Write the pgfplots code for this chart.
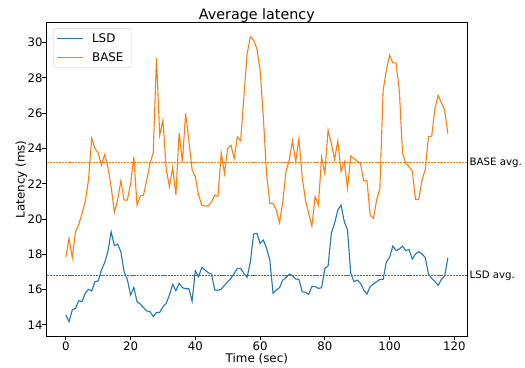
\documentclass[border=0pt]{standalone}
\usepackage{fontspec}
\setmainfont{DejaVu Sans}
\usepackage{pgfplots}
\pgfplotsset{compat=1.18}
\usepackage{pgfplotstable}
\definecolor{cblue}{HTML}{1F77B4}
\definecolor{corange}{HTML}{FF7F0E}

\pgfplotstableread{
t lsd base
0 14.56 17.83
1 14.18 18.9
2 14.84 17.81
3 14.94 19.28
4 15.37 19.7
5 15.32 20.3
6 15.79 21.0
7 16.02 22.2
8 15.92 24.57
9 16.45 24.0
10 16.49 23.75
11 17.11 23.06
12 17.53 23.66
13 18.15 22.96
14 19.28 21.83
15 18.49 20.38
16 18.58 21.07
17 18.15 22.17
18 17.02 21.07
19 16.58 21.07
20 15.69 22.0
21 16.13 23.53
22 15.32 20.79
23 15.18 21.3
24 14.98 21.36
25 14.79 22.2
26 14.75 23.15
27 14.47 23.75
28 14.71 29.15
29 14.71 24.75
30 15.03 25.6
31 15.22 22.87
32 15.69 21.83
33 16.3 22.92
34 15.94 21.36
35 16.36 24.9
36 16.11 23.24
37 16.05 25.98
38 16.05 24.47
39 15.35 22.81
40 17.07 22.39
41 16.73 21.36
42 17.26 20.79
43 17.11 20.74
44 16.96 20.74
45 16.88 20.98
46 15.98 21.36
47 15.96 21.3
48 16.03 23.75
49 16.24 22.58
50 16.45 24.0
51 16.64 24.19
52 16.92 23.43
53 17.2 24.66
54 17.2 24.43
55 16.92 26.93
56 16.7 29.38
57 17.58 30.33
58 19.15 30.14
59 19.19 29.66
60 18.62 28.44
61 18.81 25.79
62 18.34 22.58
63 17.68 20.89
64 15.79 20.89
65 15.98 20.51
66 16.11 19.79
67 16.54 20.98
68 16.68 22.68
69 16.88 23.34
70 16.79 24.43
71 16.6 23.24
72 16.58 24.57
73 15.88 22.39
74 15.85 21.08
75 15.73 20.32
76 16.17 19.6
77 16.17 21.27
78 16.07 20.79
79 16.11 23.49
80 17.2 22.58
81 17.34 25.04
82 19.19 24.28
83 19.75 23.38
84 20.51 24.43
85 20.79 22.68
86 19.85 23.24
87 19.38 21.73
88 16.92 23.57
89 16.45 23.43
90 16.54 23.28
91 16.36 23.15
92 15.98 22.17
93 15.75 22.17
94 16.17 20.23
95 16.32 20.04
96 16.45 21.08
97 16.58 21.74
98 16.58 27.3
99 17.58 28.44
100 17.83 29.29
101 18.47 28.85
102 18.21 28.85
103 18.3 27.3
104 18.47 23.72
105 18.21 23.15
106 18.28 22.96
107 17.73 22.73
108 18.02 21.11
109 18.15 21.11
110 18.02 22.2
111 17.83 22.81
112 16.87 24.66
113 16.64 24.7
114 16.45 26.27
115 16.24 27.02
116 16.58 26.59
117 16.77 26.17
118 17.81 24.85
}\data

\begin{document}
\begin{tikzpicture}
\begin{axis}[
  name=ax,
  scale only axis,
  width=420.3pt, height=313.3pt,
  xmin=-5.9, xmax=123.9,
  ymin=13.37, ymax=31.13,
  xtick={0,20,...,120},
  ytick={14,16,...,30},
  tick align=outside,
  xtick pos=bottom, ytick pos=left,
  major tick length=4.2pt,
  tick style={black, line width=0.9pt},
  axis line style={black, line width=0.9pt},
  /pgf/number format/assume math mode=true,
  ticklabel style={font=\fontsize{11.7}{14}\selectfont},
  xticklabel style={yshift=2pt},
  yticklabel style={xshift=3.5pt},
  label style={font=\fontsize{11.9}{14}\selectfont},
  every axis title shift=0pt,
  title style={font=\fontsize{14.3}{17}\selectfont, at={(rel axis cs:0.5,1.0118)}, anchor=base},
  title={Average latency},
  xlabel={Time (sec)},
  ylabel={Latency (ms)},
  xlabel style={at={(rel axis cs:0.5,-0.083)}, anchor=base},
  ylabel style={at={(rel axis cs:-0.0525,0.5)}, anchor=base},
  clip=false,
  legend cell align=left,
  legend image code/.code={\draw[#1] (0pt,0pt) -- (26pt,0pt);},
  legend style={at={(rel axis cs:0.0157,0.9825)}, anchor=north west,
    draw=black!20, rounded corners=2pt, fill=white, fill opacity=0.8, text opacity=1,
    font=\fontsize{11.9}{14}\selectfont, inner xsep=3pt, inner ysep=3pt,
    row sep=4.5pt,
    /tikz/every odd column/.append style={column sep=6.5pt}},
]
\addplot[cblue, line width=1.1pt] table[x=t, y=lsd] {\data};
\addlegendentry{LSD}
\addplot[corange, line width=1.1pt] table[x=t, y=base] {\data};
\addlegendentry{BASE\hspace*{3pt}}
\addplot[corange, line width=0.8pt, dash pattern=on 2.2pt off 0.9pt, forget plot] coordinates {(-5.9,23.21) (123.9,23.21)};
\addplot[cblue, line width=0.8pt, dash pattern=on 2.2pt off 0.9pt, forget plot] coordinates {(-5.9,16.79) (123.9,16.79)};
\node[anchor=west, inner sep=0pt, xshift=2.5pt, font=\fontsize{10.2}{12}\selectfont] at (axis cs:123.9,23.21) {BASE avg.};
\node[anchor=west, inner sep=0pt, xshift=2.5pt, font=\fontsize{10.2}{12}\selectfont] at (axis cs:123.9,16.79) {LSD avg.};
\end{axis}
\pgfresetboundingbox
\path[use as bounding box] ([xshift=-46.7pt,yshift=-31pt]ax.south west) rectangle ([xshift=58pt,yshift=22.7pt]ax.north east);
\end{tikzpicture}
\end{document}
